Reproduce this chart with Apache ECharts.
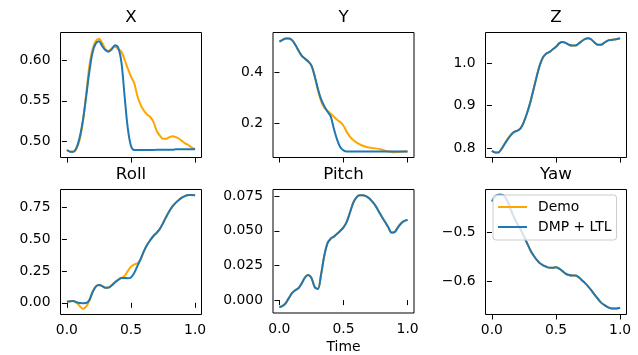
<!DOCTYPE html>
<html><head><meta charset="utf-8">
<script src="https://cdn.jsdelivr.net/npm/echarts@6/dist/echarts.min.js"></script>
<style>html,body{margin:0;padding:0;background:#fff}#c{width:638px;height:355px}</style>
</head><body><div id="c"></div>
<script>
// ---------------- data ----------------
const time = [0,0.025,0.05,0.075,0.1,0.125,0.15,0.175,0.2,0.225,0.25,0.275,0.3,0.325,0.35,0.375,0.4,0.425,0.45,0.475,0.5,0.525,0.55,0.575,0.6,0.625,0.65,0.675,0.7,0.725,0.75,0.775,0.8,0.825,0.85,0.875,0.9,0.925,0.95,0.975,1];
const seriesNames = ['Demo', 'DMP + LTL'];
const panelTitles = ['X', 'Y', 'Z', 'Roll', 'Pitch', 'Yaw'];

const xDemo = [0.489,0.487,0.487,0.491,0.502,0.524,0.558,0.593,0.614,0.624,0.627,0.622,0.614,0.612,0.615,0.617,0.614,0.611,0.601,0.590,0.580,0.572,0.556,0.545,0.538,0.533,0.530,0.524,0.513,0.507,0.503,0.503,0.505,0.506,0.505,0.503,0.500,0.497,0.495,0.492,0.4905];
const xDmp  = [0.489,0.487,0.487,0.492,0.505,0.526,0.555,0.586,0.610,0.621,0.624,0.618,0.613,0.611,0.614,0.619,0.616,0.598,0.556,0.516,0.494,0.489,0.489,0.489,0.489,0.489,0.489,0.489,0.4895,0.4895,0.4895,0.4895,0.4895,0.4895,0.490,0.490,0.490,0.490,0.490,0.490,0.490];

const yDemo = [0.518,0.525,0.530,0.530,0.523,0.505,0.483,0.463,0.452,0.441,0.425,0.385,0.330,0.287,0.262,0.250,0.238,0.227,0.215,0.206,0.192,0.168,0.150,0.137,0.127,0.120,0.114,0.110,0.107,0.105,0.104,0.102,0.099,0.095,0.092,0.090,0.089,0.090,0.091,0.0915,0.092];
const yDmp  = [0.518,0.525,0.530,0.530,0.523,0.505,0.483,0.463,0.452,0.441,0.425,0.385,0.336,0.295,0.268,0.247,0.228,0.180,0.138,0.108,0.096,0.092,0.092,0.092,0.092,0.092,0.092,0.092,0.092,0.092,0.092,0.092,0.092,0.092,0.092,0.092,0.092,0.092,0.092,0.092,0.092];

const zDemo = [0.794,0.790,0.790,0.799,0.811,0.823,0.833,0.839,0.841,0.847,0.862,0.883,0.908,0.938,0.969,0.996,1.014,1.022,1.026,1.032,1.038,1.046,1.049,1.047,1.043,1.041,1.041,1.045,1.051,1.056,1.058,1.055,1.048,1.043,1.043,1.047,1.052,1.054,1.055,1.056,1.058];
const zDmp  = [0.794,0.790,0.790,0.798,0.810,0.821,0.831,0.838,0.841,0.847,0.862,0.883,0.908,0.938,0.969,0.996,1.014,1.022,1.026,1.032,1.038,1.046,1.049,1.047,1.043,1.041,1.041,1.045,1.051,1.056,1.058,1.055,1.048,1.043,1.043,1.047,1.052,1.054,1.055,1.056,1.058];

const rollDemo = [0.008,0.012,0.014,0.000,-0.025,-0.047,-0.030,0.015,0.082,0.127,0.141,0.132,0.118,0.121,0.140,0.163,0.183,0.195,0.212,0.250,0.285,0.302,0.312,0.340,0.405,0.455,0.493,0.526,0.551,0.582,0.627,0.678,0.723,0.761,0.789,0.812,0.830,0.842,0.848,0.848,0.847];
const rollDmp  = [0.008,0.012,0.014,0.004,-0.002,-0.003,-0.002,0.022,0.085,0.127,0.141,0.132,0.118,0.120,0.137,0.160,0.180,0.195,0.195,0.194,0.200,0.235,0.290,0.345,0.405,0.455,0.493,0.526,0.551,0.582,0.627,0.678,0.723,0.761,0.789,0.812,0.830,0.842,0.848,0.848,0.847];

const pitchDemo = [-0.0052,-0.0041,-0.0020,0.0018,0.0054,0.0073,0.0088,0.0123,0.0165,0.0183,0.0160,0.0095,0.0080,0.0185,0.0320,0.0410,0.0443,0.0458,0.0478,0.0500,0.0525,0.0565,0.0630,0.0700,0.0740,0.0756,0.0757,0.0750,0.0735,0.0710,0.0680,0.0640,0.0600,0.0563,0.0525,0.0487,0.0492,0.0525,0.0555,0.0572,0.0578];
const pitchDmp  = [-0.0052,-0.0042,-0.0021,0.0016,0.0052,0.0072,0.0087,0.0122,0.0164,0.0182,0.0160,0.0095,0.0080,0.0185,0.0320,0.0410,0.0443,0.0458,0.0478,0.0500,0.0525,0.0565,0.0630,0.0700,0.0740,0.0756,0.0757,0.0750,0.0735,0.0710,0.0680,0.0640,0.0600,0.0563,0.0525,0.0487,0.0492,0.0525,0.0555,0.0572,0.0578];

const yawDemo = [-0.436,-0.426,-0.4225,-0.4225,-0.426,-0.438,-0.455,-0.470,-0.483,-0.494,-0.508,-0.522,-0.536,-0.547,-0.556,-0.563,-0.567,-0.570,-0.572,-0.572,-0.571,-0.574,-0.579,-0.584,-0.587,-0.588,-0.588,-0.591,-0.597,-0.603,-0.610,-0.618,-0.627,-0.635,-0.643,-0.648,-0.652,-0.655,-0.6555,-0.6555,-0.654];
const yawDmp  = [-0.436,-0.426,-0.4225,-0.4225,-0.426,-0.438,-0.455,-0.470,-0.483,-0.494,-0.508,-0.522,-0.536,-0.547,-0.556,-0.563,-0.567,-0.570,-0.572,-0.572,-0.571,-0.574,-0.579,-0.584,-0.587,-0.588,-0.588,-0.591,-0.597,-0.603,-0.610,-0.618,-0.627,-0.635,-0.643,-0.648,-0.652,-0.655,-0.6555,-0.6555,-0.654];

// tick values and labels
const timeTicks = [0, 0.5, 1];
const timeTickLabels = ['0.0', '0.5', '1.0'];
const xTicks = [0.50, 0.55, 0.60];        const xTickLabels = ['0.50', '0.55', '0.60'];
const yTicks = [0.2, 0.4];                const yTickLabels = ['0.2', '0.4'];
const zTicks = [0.8, 0.9, 1.0];           const zTickLabels = ['0.8', '0.9', '1.0'];
const rollTicks = [0, 0.25, 0.5, 0.75];   const rollTickLabels = ['0.00', '0.25', '0.50', '0.75'];
const pitchTicks = [0, 0.025, 0.05, 0.075]; const pitchTickLabels = ['0.000', '0.025', '0.050', '0.075'];
const yawTicks = [-0.6, -0.5];            const yawTickLabels = ['\u22120.6', '\u22120.5'];
const xAxisLabel = 'Time';

// ---------------- layout / style ----------------
const F = 'DejaVu Sans';
const C_DEMO = '#FFA500', C_DMP = '#1f77b4';
const panels = [
  {demo: xDemo, dmp: xDmp, lim: [0.4798, 0.6347], ticks: xTicks, labels: xTickLabels},
  {demo: yDemo, dmp: yDmp, lim: [0.0686, 0.5536], ticks: yTicks, labels: yTickLabels},
  {demo: zDemo, dmp: zDmp, lim: [0.778, 1.0715], ticks: zTicks, labels: zTickLabels},
  {demo: rollDemo, dmp: rollDmp, lim: [-0.092, 0.892], ticks: rollTicks, labels: rollTickLabels},
  {demo: pitchDemo, dmp: pitchDmp, lim: [-0.0093, 0.0798], ticks: pitchTicks, labels: pitchTickLabels},
  {demo: yawDemo, dmp: yawDmp, lim: [-0.6678, -0.4117], ticks: yawTicks, labels: yawTickLabels}
];
const colLeft = [60.5, 273, 485.5], rowTop = [32.5, 189.5], W = 141, H = 125;

function fmt(ticks, labels) {
  return function (v) {
    const k = ticks.findIndex(t => Math.abs(t - v) < 1e-9);
    return k >= 0 ? labels[k] : '';
  };
}

const option = {
  animation: false,
  backgroundColor: '#fff',
  title: [], grid: [], xAxis: [], yAxis: [], series: [],
  legend: {
    data: seriesNames,
    orient: 'vertical',
    left: 493, top: 195,
    padding: [4, 5, 5, 5],
    itemGap: 4,
    itemWidth: 29, itemHeight: 2,
    icon: 'rect',
    backgroundColor: 'rgba(255,255,255,0.8)',
    borderColor: '#cccccc', borderWidth: 1, borderRadius: 3,
    textStyle: {fontFamily: F, fontSize: 13.9, color: '#000', lineHeight: 16, padding: [0, 0, 0, 6]}
  }
};

panels.forEach((p, i) => {
  const r = Math.floor(i / 3), c = i % 3;
  option.grid.push({left: colLeft[c], top: rowTop[r], width: W, height: H,
    show: true, borderColor: '#000', borderWidth: 1, backgroundColor: 'transparent'});
  option.title.push({text: panelTitles[i], left: colLeft[c] + W / 2, top: rowTop[r] - 23,
    textAlign: 'center', padding: 0,
    textStyle: {fontFamily: F, fontSize: 16.7, fontWeight: 'normal', color: '#000', lineHeight: 17}});
  option.xAxis.push({
    type: 'value', gridIndex: i, min: -0.05, max: 1.05,
    axisLine: {show: false}, splitLine: {show: false},
    axisTick: {show: true, customValues: timeTicks, length: 5, lineStyle: {color: '#000', width: 1}},
    axisLabel: {show: r === 1, customValues: timeTicks, formatter: fmt(timeTicks, timeTickLabels),
      margin: 9, fontFamily: F, fontSize: 13.9, color: '#000', lineHeight: 14},
    name: i === 4 ? xAxisLabel : '', nameLocation: 'middle', nameGap: 27,
    nameTextStyle: {fontFamily: F, fontSize: 13.9, color: '#000', lineHeight: 14}
  });
  option.yAxis.push({
    type: 'value', gridIndex: i, min: p.lim[0], max: p.lim[1],
    axisLine: {show: false}, splitLine: {show: false},
    axisTick: {show: true, customValues: p.ticks, length: 5, lineStyle: {color: '#000', width: 1}},
    axisLabel: {customValues: p.ticks, formatter: fmt(p.ticks, p.labels),
      margin: 10, fontFamily: F, fontSize: 13.9, color: '#000'}
  });
  [[seriesNames[0], p.demo, C_DEMO], [seriesNames[1], p.dmp, C_DMP]].forEach(([name, arr, col]) => {
    option.series.push({
      name: name, type: 'line', xAxisIndex: i, yAxisIndex: i,
      data: time.map((t, k) => [t, arr[k]]),
      showSymbol: false, symbol: 'none', smooth: 0.35,
      color: col, lineStyle: {color: col, width: 2}
    });
  });
});

const chart = echarts.init(document.getElementById('c'));
chart.setOption(option);
</script></body></html>
